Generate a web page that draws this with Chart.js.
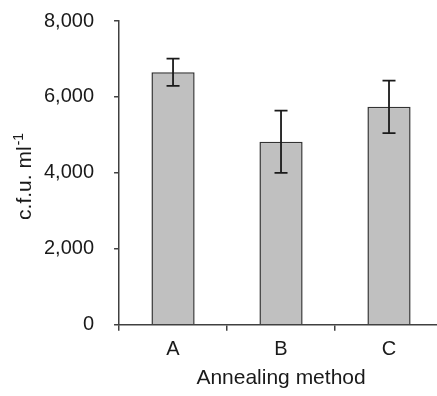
<!DOCTYPE html>
<html>
<head>
<meta charset="utf-8">
<script src="https://cdn.jsdelivr.net/npm/chart.js@4"></script>
<style>
  html, body { margin: 0; padding: 0; background: #fff; overflow: hidden; }
</style>
</head>
<body>
<canvas id="chart" width="444" height="396"></canvas>
<script>
// annealing methods and their counts (c.f.u. per ml)
let methods = ['A', 'B', 'C'];
let means = [6650, 4820, 5740];
let errors = [360, 820, 690];
let yTicks = [0, 2000, 4000, 6000, 8000];

const FONT = '"Liberation Sans", Arial, sans-serif';
const TEXT = '#1a1a1a';
const AXIS = '#404040';

// error bars drawn from the y scale
const errorBars = {
    id: 'errorBars',
    afterDatasetsDraw(chart) {
        const ctx = chart.ctx;
        const y = chart.scales.y;
        const meta = chart.getDatasetMeta(0);
        ctx.save();
        ctx.strokeStyle = '#1a1a1a';
        ctx.lineWidth = 1.8;
        meta.data.forEach((bar, i) => {
            const top = y.getPixelForValue(means[i] + errors[i]);
            const bot = y.getPixelForValue(means[i] - errors[i]);
            ctx.beginPath();
            ctx.moveTo(bar.x, top);
            ctx.lineTo(bar.x, bot);
            ctx.moveTo(bar.x - 6.5, top);
            ctx.lineTo(bar.x + 6.5, top);
            ctx.moveTo(bar.x - 6.5, bot);
            ctx.lineTo(bar.x + 6.5, bot);
            ctx.stroke();
        });
        ctx.restore();
    }
};

// y title with a real superscript
const yTitle = {
    id: 'yTitle',
    afterDraw(chart) {
        const ctx = chart.ctx;
        const area = chart.chartArea;
        ctx.save();
        ctx.translate(30.5, (area.top + area.bottom) / 2 + 4);
        ctx.rotate(-Math.PI / 2);
        ctx.fillStyle = TEXT;
        ctx.textBaseline = 'alphabetic';
        const main = 'c.f.u. ml';
        ctx.font = '21px ' + FONT;
        const w1 = ctx.measureText(main).width;
        ctx.font = '14px ' + FONT;
        const w2 = ctx.measureText('-1').width;
        const start = -(w1 + w2) / 2;
        ctx.font = '21px ' + FONT;
        ctx.textAlign = 'left';
        ctx.fillText(main, start, 0);
        ctx.font = '14px ' + FONT;
        ctx.fillText('-1', start + w1 + 1, -8);
        ctx.restore();
    }
};

new Chart(document.getElementById('chart'), {
    type: 'bar',
    data: {
        labels: methods,
        datasets: [{
            data: means,
            backgroundColor: '#c0c0c0',
            borderColor: '#333',
            borderWidth: 1.5,
            categoryPercentage: 1,
            barPercentage: 0.4
        }]
    },
    options: {
        responsive: false,
        animation: false,
        layout: { padding: { left: 24, top: 21, right: 1, bottom: 5 } },
        plugins: {
            legend: { display: false },
            tooltip: { enabled: false }
        },
        scales: {
            x: {
                grid: {
                    offset: true,
                    drawOnChartArea: false,
                    drawTicks: true,
                    tickLength: 6,
                    color: AXIS,
                    lineWidth: 1.5
                },
                border: { display: true, color: AXIS, width: 1.5 },
                ticks: { color: TEXT, font: { family: FONT, size: 20 }, padding: 7 },
                title: {
                    display: true,
                    text: 'Annealing method',
                    color: TEXT,
                    font: { family: FONT, size: 21 },
                    padding: { top: -3, bottom: 0 }
                }
            },
            y: {
                min: 0,
                max: 8000,
                afterBuildTicks(axis) {
                    axis.ticks = yTicks.map(v => ({ value: v }));
                },
                afterFit(axis) {
                    // let the layout padding alone set the top of the plot
                    axis.paddingTop = 0;
                    axis.paddingBottom = 0;
                },
                grid: {
                    drawOnChartArea: false,
                    drawTicks: true,
                    tickLength: 5,
                    color: AXIS,
                    lineWidth: 1.5
                },
                border: { display: true, color: AXIS, width: 1.5 },
                ticks: {
                    color: TEXT,
                    font: { family: FONT, size: 20 },
                    padding: 20,
                    callback: v => v.toLocaleString('en-US')
                }
            }
        }
    },
    plugins: [errorBars, yTitle]
});
</script>
</body>
</html>
